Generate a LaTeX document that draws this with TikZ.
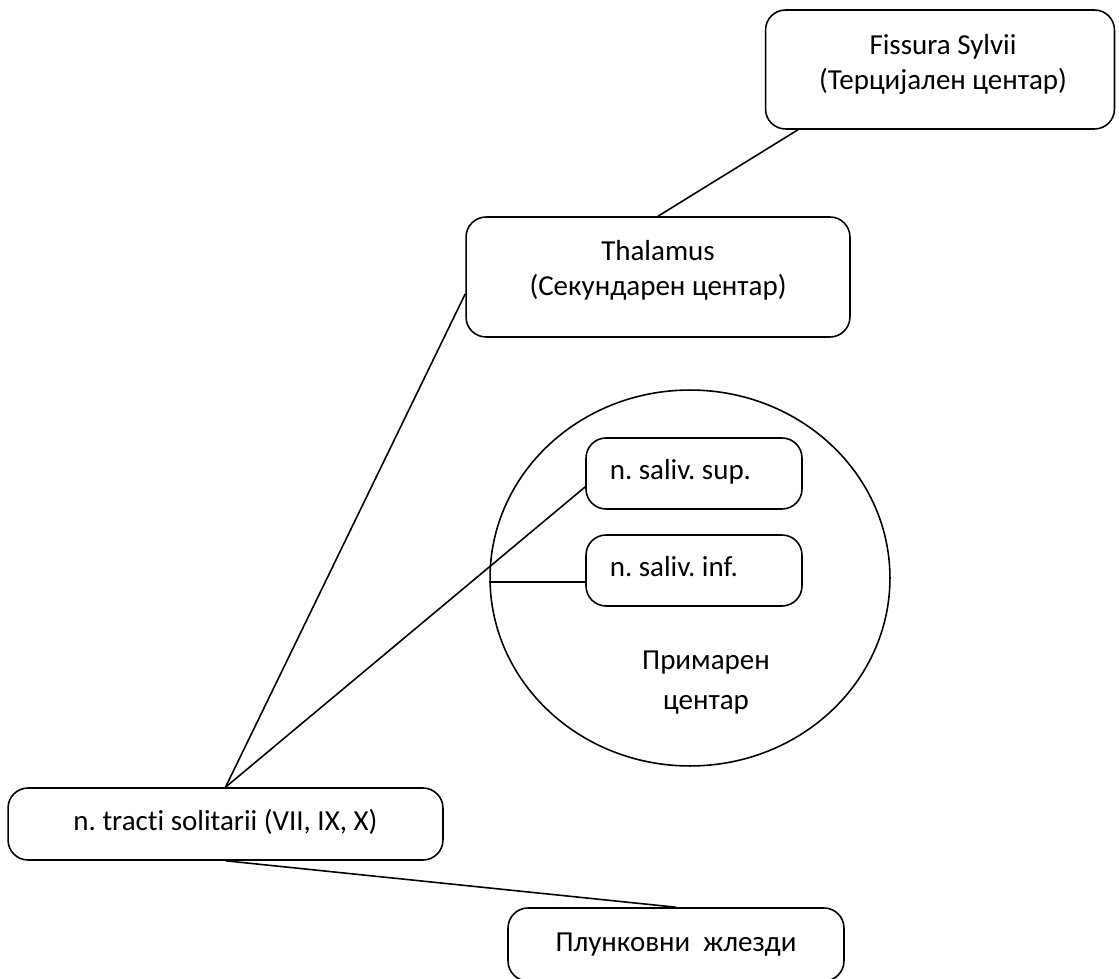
\documentclass[tikz,border=0pt]{standalone}
\usepackage{fontspec}
\setmainfont{Carlito}[Ligatures=NoCommon]
\usepackage{tikz}
\usetikzlibrary{shapes.geometric}
\frenchspacing

\tikzset{
    blok/.style={draw, rounded corners=0.4cm, line width=0.9pt, inner sep=0pt},
    txt/.style={align=center, inner sep=0pt, font=\fontsize{16.5}{19.8}\selectfont}
}

\begin{document}
\begin{tikzpicture}[x=0.02cm, y=-0.02cm, line width=0.9pt]
        \useasboundingbox (0, 0) rectangle (1119, 979);
        \node (fs) at (940, 69.5) [blok, minimum width=6.98cm, minimum height=2.38cm] {};
        \node (fst) at (943, 64.5) [txt] {Fissura Sylvii\\(Терцијален центар)};
        \node (th) at (658, 277) [blok, minimum width=7.68cm, minimum height=2.4cm] {};
        \node (tht) at (658, 270) [txt] {Thalamus\\(Секундарен центар)};
        \node (pc) at (690, 578) [draw, ellipse, inner sep=0pt, minimum width=8cm, minimum height=7.52cm] {};
        \node (pct) at (706, 683) [txt] {Примарен\\[3pt]центар};
        \node (ps) at (694, 473.5) [blok, minimum width=4.32cm, minimum height=1.42cm] {};
        \node (pst) at (609, 472) [txt, anchor=west] {n. saliv. sup.};
        \node (pi) at (694, 570.5) [blok, minimum width=4.32cm, minimum height=1.42cm] {};
        \node (pit) at (609, 567) [txt, anchor=west] {n. saliv. inf.};
        \node (nt) at (225.5, 824) [blok, minimum width=8.7cm, minimum height=1.44cm] {};
        \node (ntt) at (225.5, 822) [txt] {n. tracti solitarii (VII, IX, X)};
        \node (pz) at (676, 944.5) [blok, minimum width=6.72cm, minimum height=1.46cm] {};
        \node (pzt) at (676, 945) [txt] {Плунковни~~жлезди};
        \draw (fs.203) -- (th.north);
        \draw (th.185) -- (nt.north);
        \draw (nt.north) -- (ps.187);
        \draw (pi.186 -| pc.west) -- (pi.186);
        \draw (nt.south) -- (pz.north);
    \end{tikzpicture}
\end{document}
